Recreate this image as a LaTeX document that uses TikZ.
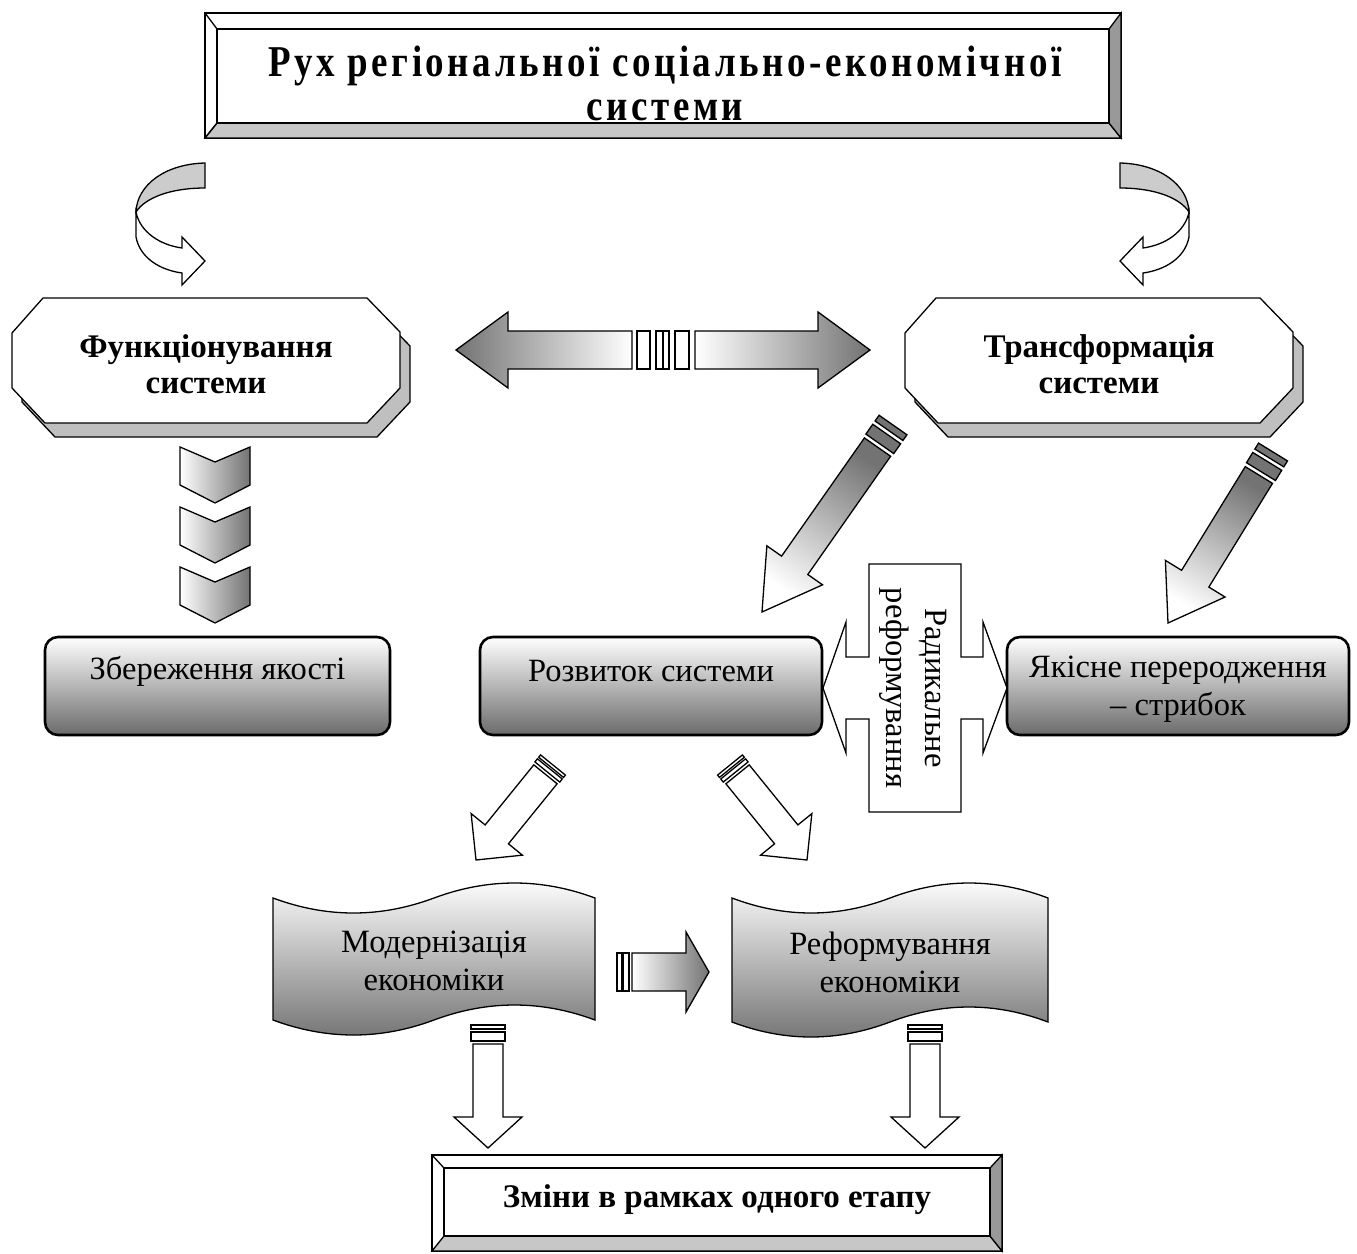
\documentclass[tikz,border=0pt]{standalone}
\usepackage{fontspec}
\setmainfont{Liberation Serif}
\newfontfamily\titlefont{Liberation Serif}[FakeStretch=0.84,LetterSpace=8]
\usetikzlibrary{calc}

% arrow body: #1 tail, #2 tip, #3 start dist, #4 shaft half width, #5 head half width, #6 head length, #7 style
\newcommand{\arrbody}[7]{%
  \coordinate (ab-s) at ($#1!#3!#2$);
  \coordinate (ab-b) at ($#2!#6!#1$);
  \path[#7] ($(ab-s)!#4!90:#2$) -- ($(ab-b)!#4!90:#2$) -- ($(ab-b)!#5!90:#2$) -- #2
     -- ($(ab-b)!#5!-90:#2$) -- ($(ab-b)!#4!-90:#2$) -- ($(ab-s)!#4!-90:#2$) -- cycle;
}
% stripe: #1 tail, #2 tip, #3 from, #4 to, #5 half width, #6 style
\newcommand{\arrstripe}[6]{%
  \coordinate (as-p) at ($#1!#3!#2$);
  \coordinate (as-q) at ($#1!#4!#2$);
  \path[#6] ($(as-p)!#5!90:#2$) -- ($(as-q)!#5!90:#2$) -- ($(as-q)!#5!-90:#2$) -- ($(as-p)!#5!-90:#2$) -- cycle;
}

\tikzset{
  ol/.style={draw=black, line width=1.3pt, line join=miter},
  lbl/.style={inner sep=0pt, align=center, font=\fontsize{32.5}{38}\selectfont},
  blbl/.style={inner sep=0pt, align=center, font=\fontsize{33}{36}\selectfont\bfseries},
  rbox/.style={draw=black, line width=2.6pt, rounded corners=13pt, top color=white, bottom color=black!58, inner sep=0pt},
  octshadow/.style={ol, fill=black!25},
  chev/.style={ol, left color=white, right color=black!55},
  docshape/.style={ol, top color=white, bottom color=black!55},
  dstripe/.style={ol, fill=black!55},
  wstripe/.style={ol, fill=white},
}

\begin{document}
\begin{tikzpicture}[x=1pt,y=-1pt]
\useasboundingbox (0,0) rectangle (1357,1253);

% ---------- top box ----------
\path[ol, fill=white] (205,13) rectangle (1121,138);
\path[ol, fill=black!22] (205,138) -- (217,123) -- (1109,123) -- (1121,138) -- cycle;
\path[ol, fill=black!40] (1121,13) -- (1109,29) -- (1109,123) -- (1121,138) -- cycle;
\path[ol] (205,13) -- (217,29) (205,138) -- (217,123);
\path[ol] (217,29) rectangle (1109,123);
\node[inner sep=0pt, align=center, font=\titlefont\bfseries\fontsize{44}{44}\selectfont] (title) at (665,83) {Рух регіональної соціально-економічної\\системи};

% ---------- curved arrows ----------
\path[ol, fill=black!20] (205,163) .. controls (165,164) and (137,185) .. (136,212) .. controls (145,198) and (170,188) .. (205,188) -- cycle;
\path[ol, fill=white] (136,212) -- (136,237) .. controls (140,258) and (160,270) .. (182,273) -- (182,285) -- (205,261) -- (182,237) -- (182,248) .. controls (160,245) and (140,232) .. (136,212) -- cycle;
\begin{scope}[xshift=1325pt, xscale=-1]
\path[ol, fill=black!20] (205,163) .. controls (165,164) and (137,185) .. (136,212) .. controls (145,198) and (170,188) .. (205,188) -- cycle;
\path[ol, fill=white] (136,212) -- (136,237) .. controls (140,258) and (160,270) .. (182,273) -- (182,285) -- (205,261) -- (182,237) -- (182,248) .. controls (160,245) and (140,232) .. (136,212) -- cycle;
\end{scope}

% ---------- octagons ----------
\begin{scope}[shift={(10,14)}]
\path[octshadow] (43,298) -- (367,298) -- (400,332) -- (400,388) -- (367,423) -- (45,423) -- (12,388) -- (12,333) -- cycle;
\end{scope}
\path[ol, fill=white] (43,298) -- (367,298) -- (400,332) -- (400,388) -- (367,423) -- (45,423) -- (12,388) -- (12,333) -- cycle;
\node[blbl] (func) at (206,364) {Функціонування\\системи};

\begin{scope}[shift={(903,14)}]
\path[octshadow] (43,298) -- (367,298) -- (400,332) -- (400,388) -- (367,423) -- (45,423) -- (12,388) -- (12,333) -- cycle;
\end{scope}
\begin{scope}[shift={(893,0)}]
\path[ol, fill=white] (43,298) -- (367,298) -- (400,332) -- (400,388) -- (367,423) -- (45,423) -- (12,388) -- (12,333) -- cycle;
\end{scope}
\node[blbl] (trans) at (1099,364) {Трансформація\\системи};

% ---------- double arrow ----------
\path[ol, left color=black!55, right color=white] (456,350) -- (508,312) -- (508,331) -- (632,331) -- (632,369) -- (508,369) -- (508,388) -- cycle;
\path[ol, fill=white] (637,331) rectangle (650,369);
\path[ol, fill=white] (656,331) rectangle (663,369);
\path[ol, fill=white] (663,331) rectangle (669,369);
\path[ol, fill=white] (675,331) rectangle (689,369);
\path[ol, left color=white, right color=black!55] (695,331) -- (818,331) -- (818,312) -- (870,350) -- (818,388) -- (818,369) -- (695,369) -- cycle;

% ---------- chevrons ----------
\path[chev] (180,447) -- (215,462) -- (250,447) -- (250,485) -- (215,503) -- (180,485) -- cycle;
\path[chev] (180,507) -- (215,522) -- (250,507) -- (250,545) -- (215,563) -- (180,545) -- cycle;
\path[chev] (180,567) -- (215,582) -- (250,567) -- (250,605) -- (215,623) -- (180,605) -- cycle;

% ---------- gray diagonal arrows ----------
\coordinate (a1t) at (893,425); \coordinate (a1h) at (762,612);
\arrstripe{(a1t)}{(a1h)}{0pt}{7pt}{17pt}{dstripe}
\arrstripe{(a1t)}{(a1h)}{11pt}{23pt}{17pt}{dstripe}
\arrbody{(a1t)}{(a1h)}{27pt}{16pt}{34pt}{57pt}{ol, top color=black!55, bottom color=white, shading angle=-35}

\coordinate (a2t) at (1273,452); \coordinate (a2h) at (1168,623);
\arrstripe{(a2t)}{(a2h)}{0pt}{7pt}{17pt}{dstripe}
\arrstripe{(a2t)}{(a2h)}{11pt}{23pt}{17pt}{dstripe}
\arrbody{(a2t)}{(a2h)}{27pt}{16pt}{35pt}{52pt}{ol, top color=black!55, bottom color=white, shading angle=-31}

% ---------- rounded boxes ----------
\node[rbox, minimum width=345pt, minimum height=98pt] (keep) at (217.5,686) {};
\node[lbl] (keept) at (217.5,671) {Збереження якості};
\node[rbox, minimum width=342pt, minimum height=98pt] (dev) at (651,686) {};
\node[lbl] (devt) at (651,671) {Розвиток системи};
\node[rbox, minimum width=342pt, minimum height=98pt] (leap) at (1178,686) {};
\node[lbl] (leapt) at (1178,689) {Якісне переродження\\– стрибок};

% ---------- cross ----------
\path[ol, fill=white] (869,564) -- (961,564) -- (961,657) -- (983,657) -- (983,622) -- (1007,688) -- (983,753) -- (983,719) -- (961,719) -- (961,812) -- (869,812) -- (869,719) -- (846,719) -- (846,753) -- (823,688) -- (846,622) -- (846,657) -- (869,657) -- cycle;
\node[inner sep=0pt, align=center, font=\fontsize{32.5}{39}\selectfont, rotate=-90] (radt) at (913,688) {Радикальне\\реформування};

% ---------- white diagonal arrows ----------
\coordinate (a3t) at (553,765); \coordinate (a3h) at (476,860);
\arrstripe{(a3t)}{(a3h)}{0pt}{3pt}{16pt}{wstripe}
\arrstripe{(a3t)}{(a3h)}{5pt}{9pt}{16pt}{wstripe}
\arrbody{(a3t)}{(a3h)}{12pt}{15pt}{33pt}{33pt}{ol, fill=white}

\coordinate (a4t) at (730,765); \coordinate (a4h) at (807,860);
\arrstripe{(a4t)}{(a4h)}{0pt}{3pt}{16pt}{wstripe}
\arrstripe{(a4t)}{(a4h)}{5pt}{9pt}{16pt}{wstripe}
\arrbody{(a4t)}{(a4h)}{12pt}{15pt}{33pt}{33pt}{ol, fill=white}

% ---------- documents ----------
\path[docshape] (273,898) .. controls (326.7,918) and (380.3,918) .. (434,898) .. controls (487.7,878) and (541.3,878) .. (595,898)
  -- (595,1020) .. controls (541.3,1000) and (487.7,1000) .. (434,1020) .. controls (380.3,1040) and (326.7,1040) .. (273,1020) -- cycle;
\node[lbl] (modt) at (434,961) {Модернізація\\економіки};

\path[docshape] (732,898) .. controls (784.7,918) and (837.3,918) .. (890,898) .. controls (942.7,878) and (995.3,878) .. (1048,898)
  -- (1048,1022) .. controls (995.3,1002) and (942.7,1002) .. (890,1022) .. controls (837.3,1042) and (784.7,1042) .. (732,1022) -- cycle;
\node[lbl] (reft) at (890,962) {Реформування\\економіки};

% ---------- horizontal arrow between documents ----------
\coordinate (a7t) at (617,972); \coordinate (a7h) at (709,972);
\arrstripe{(a7t)}{(a7h)}{0pt}{5pt}{19pt}{wstripe}
\arrstripe{(a7t)}{(a7h)}{6pt}{12pt}{19pt}{wstripe}
\arrbody{(a7t)}{(a7h)}{15pt}{19pt}{40pt}{23pt}{ol, left color=white, right color=black!55}

% ---------- vertical arrows ----------
\coordinate (a5t) at (488,1025); \coordinate (a5h) at (488,1148);
\arrstripe{(a5t)}{(a5h)}{0pt}{4pt}{17pt}{wstripe}
\arrstripe{(a5t)}{(a5h)}{7pt}{16pt}{17pt}{wstripe}
\arrbody{(a5t)}{(a5h)}{19pt}{15pt}{34pt}{31pt}{ol, fill=white}

\coordinate (a6t) at (925,1025); \coordinate (a6h) at (925,1148);
\arrstripe{(a6t)}{(a6h)}{0pt}{4pt}{17pt}{wstripe}
\arrstripe{(a6t)}{(a6h)}{7pt}{16pt}{17pt}{wstripe}
\arrbody{(a6t)}{(a6h)}{19pt}{15pt}{34pt}{31pt}{ol, fill=white}

% ---------- bottom box ----------
\path[ol, fill=white] (432,1155) rectangle (1002,1251);
\path[ol, fill=black!22] (432,1251) -- (444,1236) -- (990,1236) -- (1002,1251) -- cycle;
\path[ol, fill=black!40] (1002,1155) -- (990,1168) -- (990,1236) -- (1002,1251) -- cycle;
\path[ol] (432,1155) -- (444,1168);
\path[ol] (444,1168) rectangle (990,1236);
\node[blbl] (stage) at (717,1200) {Зміни в рамках одного етапу};

\end{tikzpicture}
\end{document}
